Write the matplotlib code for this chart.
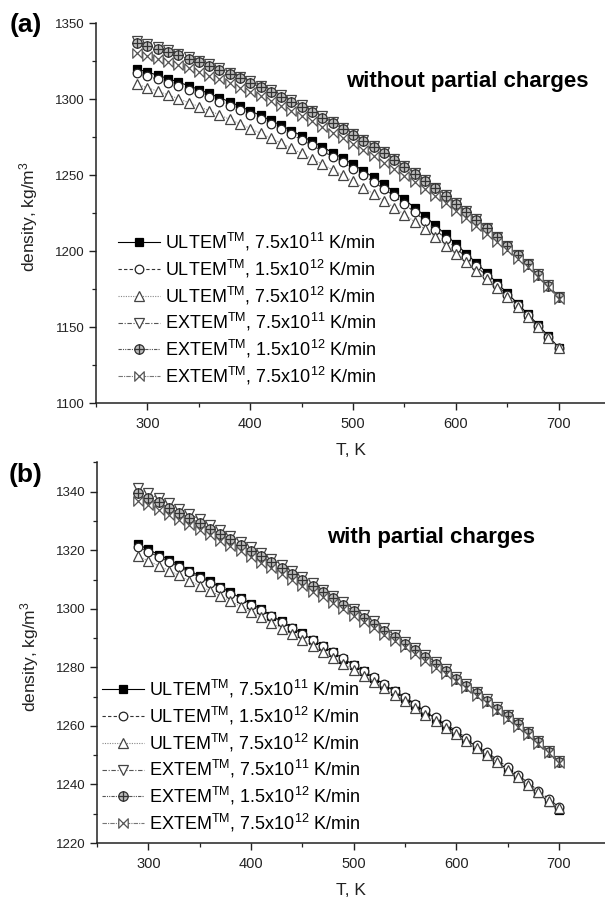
import matplotlib.pyplot as plt
from matplotlib.path import Path
from matplotlib.ticker import MultipleLocator

plt.rcParams['font.family'] = ['Liberation Sans', 'DejaVu Sans']
plt.rcParams['mathtext.default'] = 'regular'

temp = [290, 300, 310, 320, 330, 340, 350, 360, 370, 380, 390, 400, 410, 420,
        430, 440, 450, 460, 470, 480, 490, 500, 510, 520, 530, 540, 550, 560,
        570, 580, 590, 600, 610, 620, 630, 640, 650, 660, 670, 680, 690, 700]

# (a) without partial charges
ultem_a_75e11 = [1319.8, 1317.9, 1315.8, 1313.6, 1311.3, 1308.9, 1306.4, 1303.8, 1301.1, 1298.3,
                 1295.4, 1292.4, 1289.3, 1286.1, 1282.8, 1279.4, 1275.9, 1272.3, 1268.7, 1264.9,
                 1261.1, 1257.1, 1252.9, 1248.5, 1243.9, 1239.1, 1234.0, 1228.5, 1222.9, 1217.0,
                 1211.0, 1204.6, 1198.4, 1192.1, 1185.7, 1179.0, 1172.3, 1165.5, 1158.5, 1151.4,
                 1144.0, 1136.5]
ultem_a_15e12 = [1317.1, 1315.2, 1313.2, 1311.0, 1308.7, 1306.3, 1303.8, 1301.2, 1298.5, 1295.7,
                 1292.8, 1289.8, 1286.7, 1283.5, 1280.2, 1276.8, 1273.3, 1269.7, 1266.0, 1262.2,
                 1258.4, 1254.3, 1250.0, 1245.6, 1241.0, 1236.2, 1231.0, 1225.6, 1220.0, 1214.2,
                 1208.2, 1202.0, 1196.0, 1189.9, 1183.7, 1177.4, 1171.0, 1164.4, 1157.7, 1150.8,
                 1143.6, 1136.2]
ultem_a_75e12 = [1309.8, 1307.6, 1305.3, 1302.9, 1300.4, 1297.8, 1295.2, 1292.5, 1289.7, 1286.8,
                 1283.8, 1280.7, 1277.6, 1274.4, 1271.1, 1267.7, 1264.3, 1260.8, 1257.2, 1253.6,
                 1249.9, 1245.9, 1241.8, 1237.6, 1233.2, 1228.7, 1224.1, 1219.3, 1214.4, 1209.4,
                 1203.7, 1198.2, 1192.8, 1187.2, 1181.5, 1175.6, 1169.5, 1163.2, 1156.7, 1150.0,
                 1143.1, 1136.0]
extem_a_75e11 = [1338.3, 1336.4, 1334.4, 1332.3, 1330.1, 1327.8, 1325.4, 1322.9, 1320.3, 1317.6,
                 1314.8, 1311.9, 1308.9, 1305.8, 1302.6, 1299.3, 1295.9, 1292.4, 1288.8, 1285.1,
                 1281.3, 1277.4, 1273.4, 1269.3, 1265.0, 1260.6, 1256.1, 1251.5, 1246.7, 1241.8,
                 1236.8, 1231.6, 1226.3, 1220.9, 1215.3, 1209.6, 1203.7, 1197.7, 1191.5, 1184.9,
                 1177.6, 1169.8]
extem_a_15e12 = [1337.1, 1335.2, 1333.2, 1331.1, 1328.9, 1326.6, 1324.2, 1321.8, 1319.2, 1316.5,
                 1313.7, 1310.8, 1307.8, 1304.7, 1301.5, 1298.3, 1294.9, 1291.4, 1287.9, 1284.2,
                 1280.5, 1276.6, 1272.7, 1268.6, 1264.4, 1260.0, 1255.5, 1251.0, 1246.2, 1241.3,
                 1236.3, 1231.2, 1225.9, 1220.5, 1215.0, 1209.3, 1203.4, 1197.4, 1191.2, 1184.6,
                 1177.3, 1169.5]
extem_a_75e12 = [1330.3, 1328.5, 1326.6, 1324.6, 1322.5, 1320.3, 1317.9, 1315.5, 1313.0, 1310.4,
                 1307.7, 1304.9, 1301.9, 1298.8, 1295.6, 1292.3, 1288.9, 1285.4, 1281.8, 1278.1,
                 1274.3, 1270.4, 1266.5, 1262.5, 1258.3, 1254.0, 1249.6, 1245.3, 1240.8, 1236.2,
                 1231.5, 1226.6, 1221.7, 1216.7, 1211.5, 1206.2, 1200.7, 1195.1, 1189.3, 1183.1,
                 1176.2, 1168.8]

# (b) with partial charges
ultem_b_75e11 = [1322.0, 1320.3, 1318.5, 1316.8, 1314.9, 1313.1, 1311.2, 1309.4, 1307.5, 1305.6,
                 1303.7, 1301.7, 1299.8, 1297.7, 1295.7, 1293.6, 1291.6, 1289.5, 1287.3, 1285.2,
                 1283.0, 1280.8, 1278.6, 1276.4, 1274.1, 1271.8, 1269.6, 1267.2, 1264.9, 1262.5,
                 1260.1, 1257.7, 1255.3, 1252.9, 1250.3, 1247.8, 1245.1, 1242.5, 1239.7, 1237.0,
                 1234.1, 1231.3]
ultem_b_15e12 = [1321.2, 1319.5, 1317.8, 1316.1, 1314.3, 1312.5, 1310.7, 1308.9, 1307.1, 1305.2,
                 1303.3, 1301.4, 1299.5, 1297.5, 1295.5, 1293.5, 1291.5, 1289.4, 1287.3, 1285.2,
                 1283.1, 1280.9, 1278.8, 1276.6, 1274.4, 1272.1, 1269.9, 1267.6, 1265.3, 1263.0,
                 1260.6, 1258.3, 1255.9, 1253.5, 1251.0, 1248.5, 1245.9, 1243.3, 1240.6, 1237.9,
                 1235.1, 1232.3]
ultem_b_75e12 = [1318.0, 1316.4, 1314.7, 1313.1, 1311.4, 1309.6, 1307.9, 1306.2, 1304.4, 1302.6,
                 1300.8, 1298.9, 1297.1, 1295.2, 1293.2, 1291.3, 1289.4, 1287.3, 1285.3, 1283.3,
                 1281.2, 1279.1, 1277.1, 1274.9, 1272.8, 1270.6, 1268.4, 1266.2, 1263.9, 1261.7,
                 1259.4, 1257.1, 1254.8, 1252.5, 1250.0, 1247.6, 1245.1, 1242.5, 1239.9, 1237.3,
                 1234.5, 1231.8]
extem_b_75e11 = [1341.2, 1339.5, 1337.8, 1336.0, 1334.2, 1332.4, 1330.6, 1328.7, 1326.8, 1324.9,
                 1323.0, 1321.0, 1319.0, 1317.0, 1315.0, 1312.9, 1310.8, 1308.7, 1306.6, 1304.5,
                 1302.3, 1300.1, 1297.9, 1295.7, 1293.4, 1291.1, 1288.8, 1286.5, 1284.1, 1281.7,
                 1279.3, 1276.8, 1274.3, 1271.7, 1269.1, 1266.4, 1263.7, 1260.9, 1258.0, 1254.8,
                 1251.5, 1248.1]
extem_b_15e12 = [1339.7, 1338.0, 1336.4, 1334.6, 1332.8, 1331.1, 1329.3, 1327.4, 1325.5, 1323.7,
                 1321.8, 1319.8, 1317.9, 1315.9, 1313.9, 1311.8, 1309.8, 1307.7, 1305.6, 1303.6,
                 1301.4, 1299.2, 1297.0, 1294.9, 1292.6, 1290.3, 1288.1, 1285.8, 1283.4, 1281.1,
                 1278.7, 1276.2, 1273.7, 1271.2, 1268.6, 1265.9, 1263.3, 1260.5, 1257.6, 1254.4,
                 1251.2, 1247.8]
extem_b_75e12 = [1337.0, 1335.4, 1333.8, 1332.1, 1330.3, 1328.6, 1326.9, 1325.1, 1323.3, 1321.5,
                 1319.6, 1317.7, 1315.8, 1313.9, 1312.0, 1309.9, 1307.9, 1305.9, 1303.9, 1301.9,
                 1299.8, 1297.6, 1295.5, 1293.4, 1291.2, 1289.0, 1286.8, 1284.5, 1282.2, 1279.9,
                 1277.6, 1275.2, 1272.8, 1270.2, 1267.7, 1265.1, 1262.5, 1259.8, 1257.0, 1253.8,
                 1250.6, 1247.3]

labels = [r'ULTEM$^{TM}$, 7.5x10$^{11}$ K/min',
          r'ULTEM$^{TM}$, 1.5x10$^{12}$ K/min',
          r'ULTEM$^{TM}$, 7.5x10$^{12}$ K/min',
          r'EXTEM$^{TM}$, 7.5x10$^{11}$ K/min',
          r'EXTEM$^{TM}$, 1.5x10$^{12}$ K/min',
          r'EXTEM$^{TM}$, 7.5x10$^{12}$ K/min']

# origin-like symbols: circle with plus, bow-tie cross
oplus = Path.make_compound_path(
    Path.unit_circle(),
    Path([(-1, 0), (1, 0), (0, -1), (0, 1)],
         [Path.MOVETO, Path.LINETO, Path.MOVETO, Path.LINETO]))
bowtie = Path([(-1, -1), (1, 1), (1, -1), (-1, 1), (-1, -1)],
              [Path.MOVETO, Path.LINETO, Path.LINETO, Path.LINETO, Path.CLOSEPOLY])

styles = [
    dict(marker='s', ms=5.5, mfc='black', mec='black', color='black', ls='-'),
    dict(marker='o', ms=6.2, mfc='white', mec='#222222', color='#333333', ls=(0, (3, 2))),
    dict(marker='^', ms=7.5, mfc='white', mec='#444444', color='#888888', ls=(0, (1, 1.2))),
    dict(marker='v', ms=7.5, mfc='white', mec='#444444', color='#555555', ls=(0, (4, 1.5, 1, 1.5))),
    dict(marker=oplus, ms=6.8, mfc='#bbbbbb', mec='#333333', color='#555555', ls=(0, (3, 1, 1, 1, 1, 1))),
    dict(marker=bowtie, ms=6.8, mfc='white', mec='#555555', color='#777777', ls=(0, (4, 1, 1, 1))),
]


def panel(ax, series, ylim, ymajor, yminor, note, note_xy, tag, tag_xy, leg_xy):
    for vals, lab, st in zip(series, labels, styles):
        ax.plot(temp, vals, label=lab, lw=0.8, mew=0.9, **st)
    ax.set_xlim(250, 745)
    ax.set_ylim(*ylim)
    ax.xaxis.set_major_locator(MultipleLocator(100))
    ax.xaxis.set_minor_locator(MultipleLocator(50))
    ax.yaxis.set_major_locator(MultipleLocator(ymajor))
    ax.yaxis.set_minor_locator(MultipleLocator(yminor))
    for s in ['top', 'right']:
        ax.spines[s].set_visible(False)
    for s in ['left', 'bottom']:
        ax.spines[s].set_linewidth(1.1)
        ax.spines[s].set_color('#222222')
    ax.tick_params(which='major', direction='out', length=5, width=1.0, color='#222222')
    ax.tick_params(which='minor', direction='out', length=3, width=0.9, color='#222222')
    ax.tick_params(axis='x', labelsize=10.5, pad=5, labelcolor='#222222')
    ax.tick_params(axis='y', labelsize=9.5, pad=3, labelcolor='#222222')
    ax.set_xlabel('T, K', fontsize=12.5, color='#222222')
    ax.set_ylabel('density, kg/m$^3$', fontsize=12.5, color='#222222')
    ax.xaxis.set_label_coords(0.5, -0.105)
    ax.yaxis.set_label_coords(-0.11, 0.49)
    fig.text(note_xy[0], note_xy[1], note, fontsize=16, fontweight='bold',
             ha='center', va='center')
    fig.text(tag_xy[0], tag_xy[1], tag, fontsize=19, fontweight='bold',
             ha='center', va='center')
    ax.legend(loc='upper left', bbox_to_anchor=leg_xy, bbox_transform=fig.transFigure,
              frameon=False, fontsize=13, numpoints=1, handlelength=2.35,
              handletextpad=0.28, labelspacing=0.26, borderpad=0, borderaxespad=0)


fig = plt.figure(figsize=(6.05, 8.99), dpi=100)
ax_a = fig.add_axes([96 / 605, 1 - 403 / 899, 1 - 96 / 605, (403 - 23.3) / 899])
ax_b = fig.add_axes([97 / 605, 1 - 843 / 899, 1 - 97 / 605, (843 - 462.5) / 899])

panel(ax_a, [ultem_a_75e11, ultem_a_15e12, ultem_a_75e12,
             extem_a_75e11, extem_a_15e12, extem_a_75e12],
      (1100, 1350), 50, 25, 'without partial charges', (467 / 605, 1 - 82 / 899),
      '(a)', (26 / 605, 1 - 25 / 899), (118 / 605, 1 - 231 / 899))
panel(ax_b, [ultem_b_75e11, ultem_b_15e12, ultem_b_75e12,
             extem_b_75e11, extem_b_15e12, extem_b_75e12],
      (1220, 1350), 20, 10, 'with partial charges', (431 / 605, 1 - 537 / 899),
      '(b)', (26 / 605, 1 - 475 / 899), (102 / 605, 1 - 678 / 899))

fig.savefig('out.png', dpi=100)
